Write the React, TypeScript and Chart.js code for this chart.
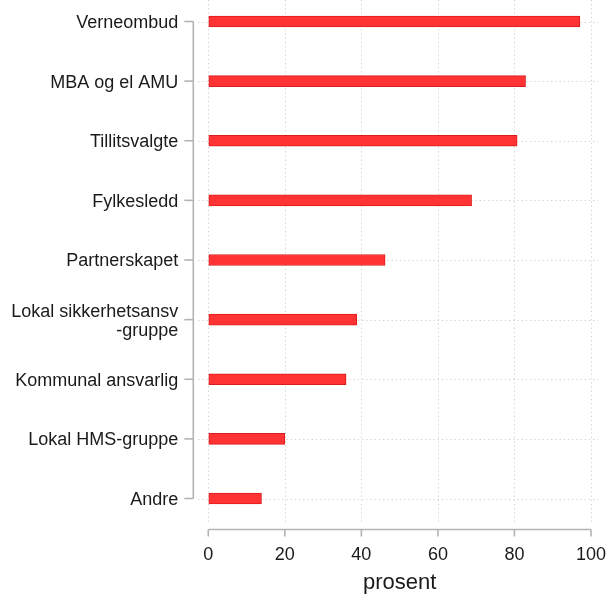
import React, { useEffect, useRef } from "react";
import { Chart, registerables } from "chart.js";

Chart.register(...registerables);

const categories: (string | string[])[] = [
  "Verneombud",
  "MBA og el AMU",
  "Tillitsvalgte",
  "Fylkesledd",
  "Partnerskapet",
  ["Lokal sikkerhetsansv", "-gruppe"],
  "Kommunal ansvarlig",
  "Lokal HMS-gruppe",
  "Andre",
];
const values: number[] = [97.1, 82.9, 80.7, 68.8, 46.2, 38.8, 36.0, 20.0, 13.9];
const xTicks: number[] = [0, 20, 40, 60, 80, 100];
const xTitle = "prosent";

const FONT = "'Liberation Sans', Arial, sans-serif";
const AXIS_COLOR = "#b3b3b3";
const GRID_COLOR = "#cfcfcf";

const axesPlugin = {
  id: "rAxes",
  beforeDatasetsDraw(chart: any) {
    const { ctx, chartArea, scales } = chart;
    const xs = scales.x;
    const ys = scales.y;
    ctx.save();
    // dotted grid
    ctx.strokeStyle = GRID_COLOR;
    ctx.lineWidth = 1;
    ctx.setLineDash([1.2, 3]);
    xTicks.forEach((v) => {
      const x = Math.round(xs.getPixelForValue(v)) + 0.5;
      ctx.beginPath();
      ctx.moveTo(x, 0);
      ctx.lineTo(x, chartArea.bottom + 26);
      ctx.stroke();
    });
    categories.forEach((_, i) => {
      const y = Math.round(ys.getPixelForValue(i)) + 0.5;
      ctx.beginPath();
      ctx.moveTo(chartArea.left - 10, y);
      ctx.lineTo(chartArea.right + 7, y);
      ctx.stroke();
    });
    ctx.setLineDash([]);
    // y axis
    ctx.strokeStyle = AXIS_COLOR;
    ctx.lineWidth = 1.6;
    const ax = chartArea.left - 15;
    const y0 = ys.getPixelForValue(0);
    const y1 = ys.getPixelForValue(categories.length - 1);
    ctx.beginPath();
    ctx.moveTo(ax, y0);
    ctx.lineTo(ax, y1);
    ctx.stroke();
    categories.forEach((_, i) => {
      const y = ys.getPixelForValue(i);
      ctx.beginPath();
      ctx.moveTo(ax - 9, y);
      ctx.lineTo(ax, y);
      ctx.stroke();
    });
    // x axis
    const ay = chartArea.bottom + 31;
    const x0 = xs.getPixelForValue(xTicks[0]);
    const x1 = xs.getPixelForValue(xTicks[xTicks.length - 1]);
    ctx.beginPath();
    ctx.moveTo(x0, ay);
    ctx.lineTo(x1, ay);
    ctx.stroke();
    xTicks.forEach((v) => {
      const x = xs.getPixelForValue(v);
      ctx.beginPath();
      ctx.moveTo(x, ay);
      ctx.lineTo(x, ay + 7);
      ctx.stroke();
    });
    ctx.restore();
  },
};

export default function App() {
  const ref = useRef<HTMLCanvasElement | null>(null);
  useEffect(() => {
    if (!ref.current) return;
    const chart = new Chart(ref.current, {
      type: "bar",
      data: {
        labels: categories as any,
        datasets: [
          {
            data: values,
            backgroundColor: "#ff3333",
            borderColor: "#dc1c1c",
            borderWidth: 1,
            borderSkipped: false,
            barThickness: 11,
            clip: false as any,
          },
        ],
      },
      options: {
        indexAxis: "y",
        animation: false,
        responsive: false,
        maintainAspectRatio: false,
        layout: { padding: { top: 21.5, right: 15, bottom: 0, left: 0 } },
        plugins: {
          legend: { display: false },
          tooltip: { enabled: false },
        },
        scales: {
          x: {
            type: "linear",
            min: 0,
            max: 100,
            afterBuildTicks: (s: any) => {
              s.ticks = xTicks.map((v) => ({ value: v }));
            },
            afterFit: (s: any) => {
              s.height = 95.5;
            },
            grid: {
              display: true,
              drawOnChartArea: false,
              drawTicks: true,
              tickLength: 46,
              color: "rgba(0,0,0,0)",
            },
            border: { display: false },
            ticks: {
              padding: 0,
              color: "#1a1a1a",
              font: { family: FONT, size: 18 },
            },
            title: {
              display: true,
              text: xTitle,
              color: "#1a1a1a",
              font: { family: FONT, size: 22, lineHeight: 1.0 },
              padding: { top: 0, bottom: 0 },
            },
          },
          y: {
            type: "category",
            offset: false,
            afterFit: (s: any) => {
              s.width = 208.3;
            },
            grid: {
              display: true,
              drawOnChartArea: false,
              drawTicks: true,
              tickLength: 30,
              color: "rgba(0,0,0,0)",
            },
            border: { display: false },
            ticks: {
              padding: 0,
              labelOffset: 1.5,
              color: "#1a1a1a",
              font: { family: FONT, size: 18, lineHeight: 1.05 },
            },
          },
        },
      },
      plugins: [axesPlugin],
    });
    return () => chart.destroy();
  }, []);
  return (
    <div style={{ position: "fixed", left: 0, top: 0, width: 606, height: 594, background: "#fff" }}>
      <canvas ref={ref} width={606} height={594} style={{ width: 606, height: 594 }} />
    </div>
  );
}
